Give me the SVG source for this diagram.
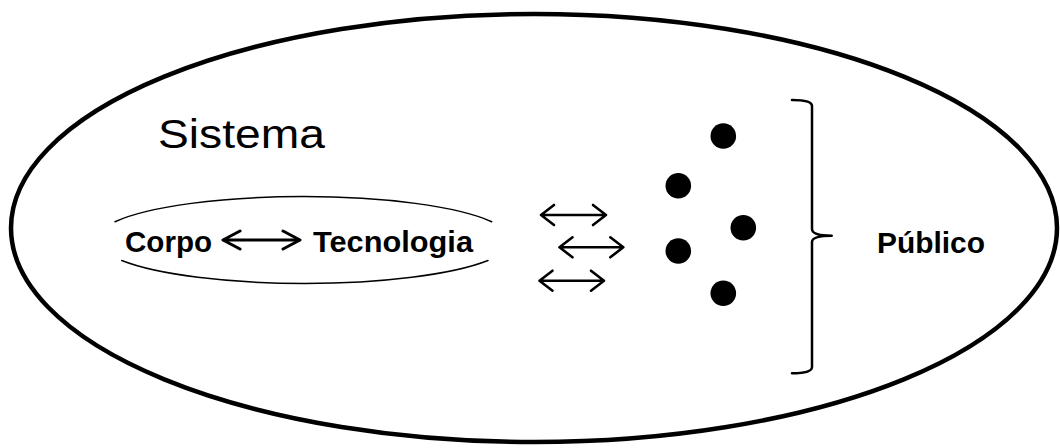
<svg xmlns="http://www.w3.org/2000/svg" width="1060" height="448" viewBox="0 0 1060 448">
<defs>
<style>
.line{fill:none;stroke:#000;stroke-linecap:round;stroke-linejoin:round}
.b{font-family:"Liberation Sans",Arial,sans-serif;font-weight:bold;font-size:30px;fill:#000}
.r{font-family:"Liberation Sans",Arial,sans-serif;font-size:40px;fill:#000}
.dot{fill:#000}
</style>
</defs>
<rect width="1060" height="448" fill="#fff"/>
<g id="sistema">
<ellipse cx="534" cy="228" rx="523" ry="214" fill="none" stroke="#000" stroke-width="4.5"/>
<text class="r" x="158" y="148" textLength="167" lengthAdjust="spacingAndGlyphs">Sistema</text>
</g>
<g id="corpo-tecnologia">
<path class="line" stroke-width="1.5" d="M115,221.7 A207,43 0 0 1 491.7,221.7"/>
<path class="line" stroke-width="1.5" d="M121.7,260.5 A207,43 0 0 0 488,260.5"/>
<text class="b" x="125" y="252" textLength="87" lengthAdjust="spacingAndGlyphs">Corpo</text>
<text class="b" x="313" y="252" textLength="160" lengthAdjust="spacingAndGlyphs">Tecnologia</text>
</g>
<g id="publico-pontos">
<circle class="dot" cx="723.3" cy="136" r="12.8"/>
<circle class="dot" cx="678.3" cy="185.7" r="12.8"/>
<circle class="dot" cx="743.3" cy="227.7" r="12.8"/>
<circle class="dot" cx="678.3" cy="251" r="12.8"/>
<circle class="dot" cx="723.3" cy="293.3" r="12.8"/>
</g>
<g id="publico">
<path class="line" stroke-width="2.5" d="M792,100 Q812,100 812,106 L812,229 Q812,235.7 831.7,235.7 Q812,235.7 812,242 L812,367 Q812,373.3 792,373.3"/>
<text class="b" x="877" y="253" textLength="108" lengthAdjust="spacingAndGlyphs">Público</text>
</g>
<g id="connectors">
<path class="line" stroke-width="3" d="M223,240 H300 M240,231 L223,240 L240,249 M283,231 L300,240 L283,249"/>
<path class="line" stroke-width="2.6" d="M541,215 H606 M554,205 L541,215 L554,225 M593,205 L606,215 L593,225"/>
<path class="line" stroke-width="2.6" d="M559.5,247.3 H623.3 M572.5,237.3 L559.5,247.3 L572.5,257.3 M610.3,237.3 L623.3,247.3 L610.3,257.3"/>
<path class="line" stroke-width="2.6" d="M539.5,280.7 H604 M552.5,270.7 L539.5,280.7 L552.5,290.7 M591,270.7 L604,280.7 L591,290.7"/>
</g>
</svg>
